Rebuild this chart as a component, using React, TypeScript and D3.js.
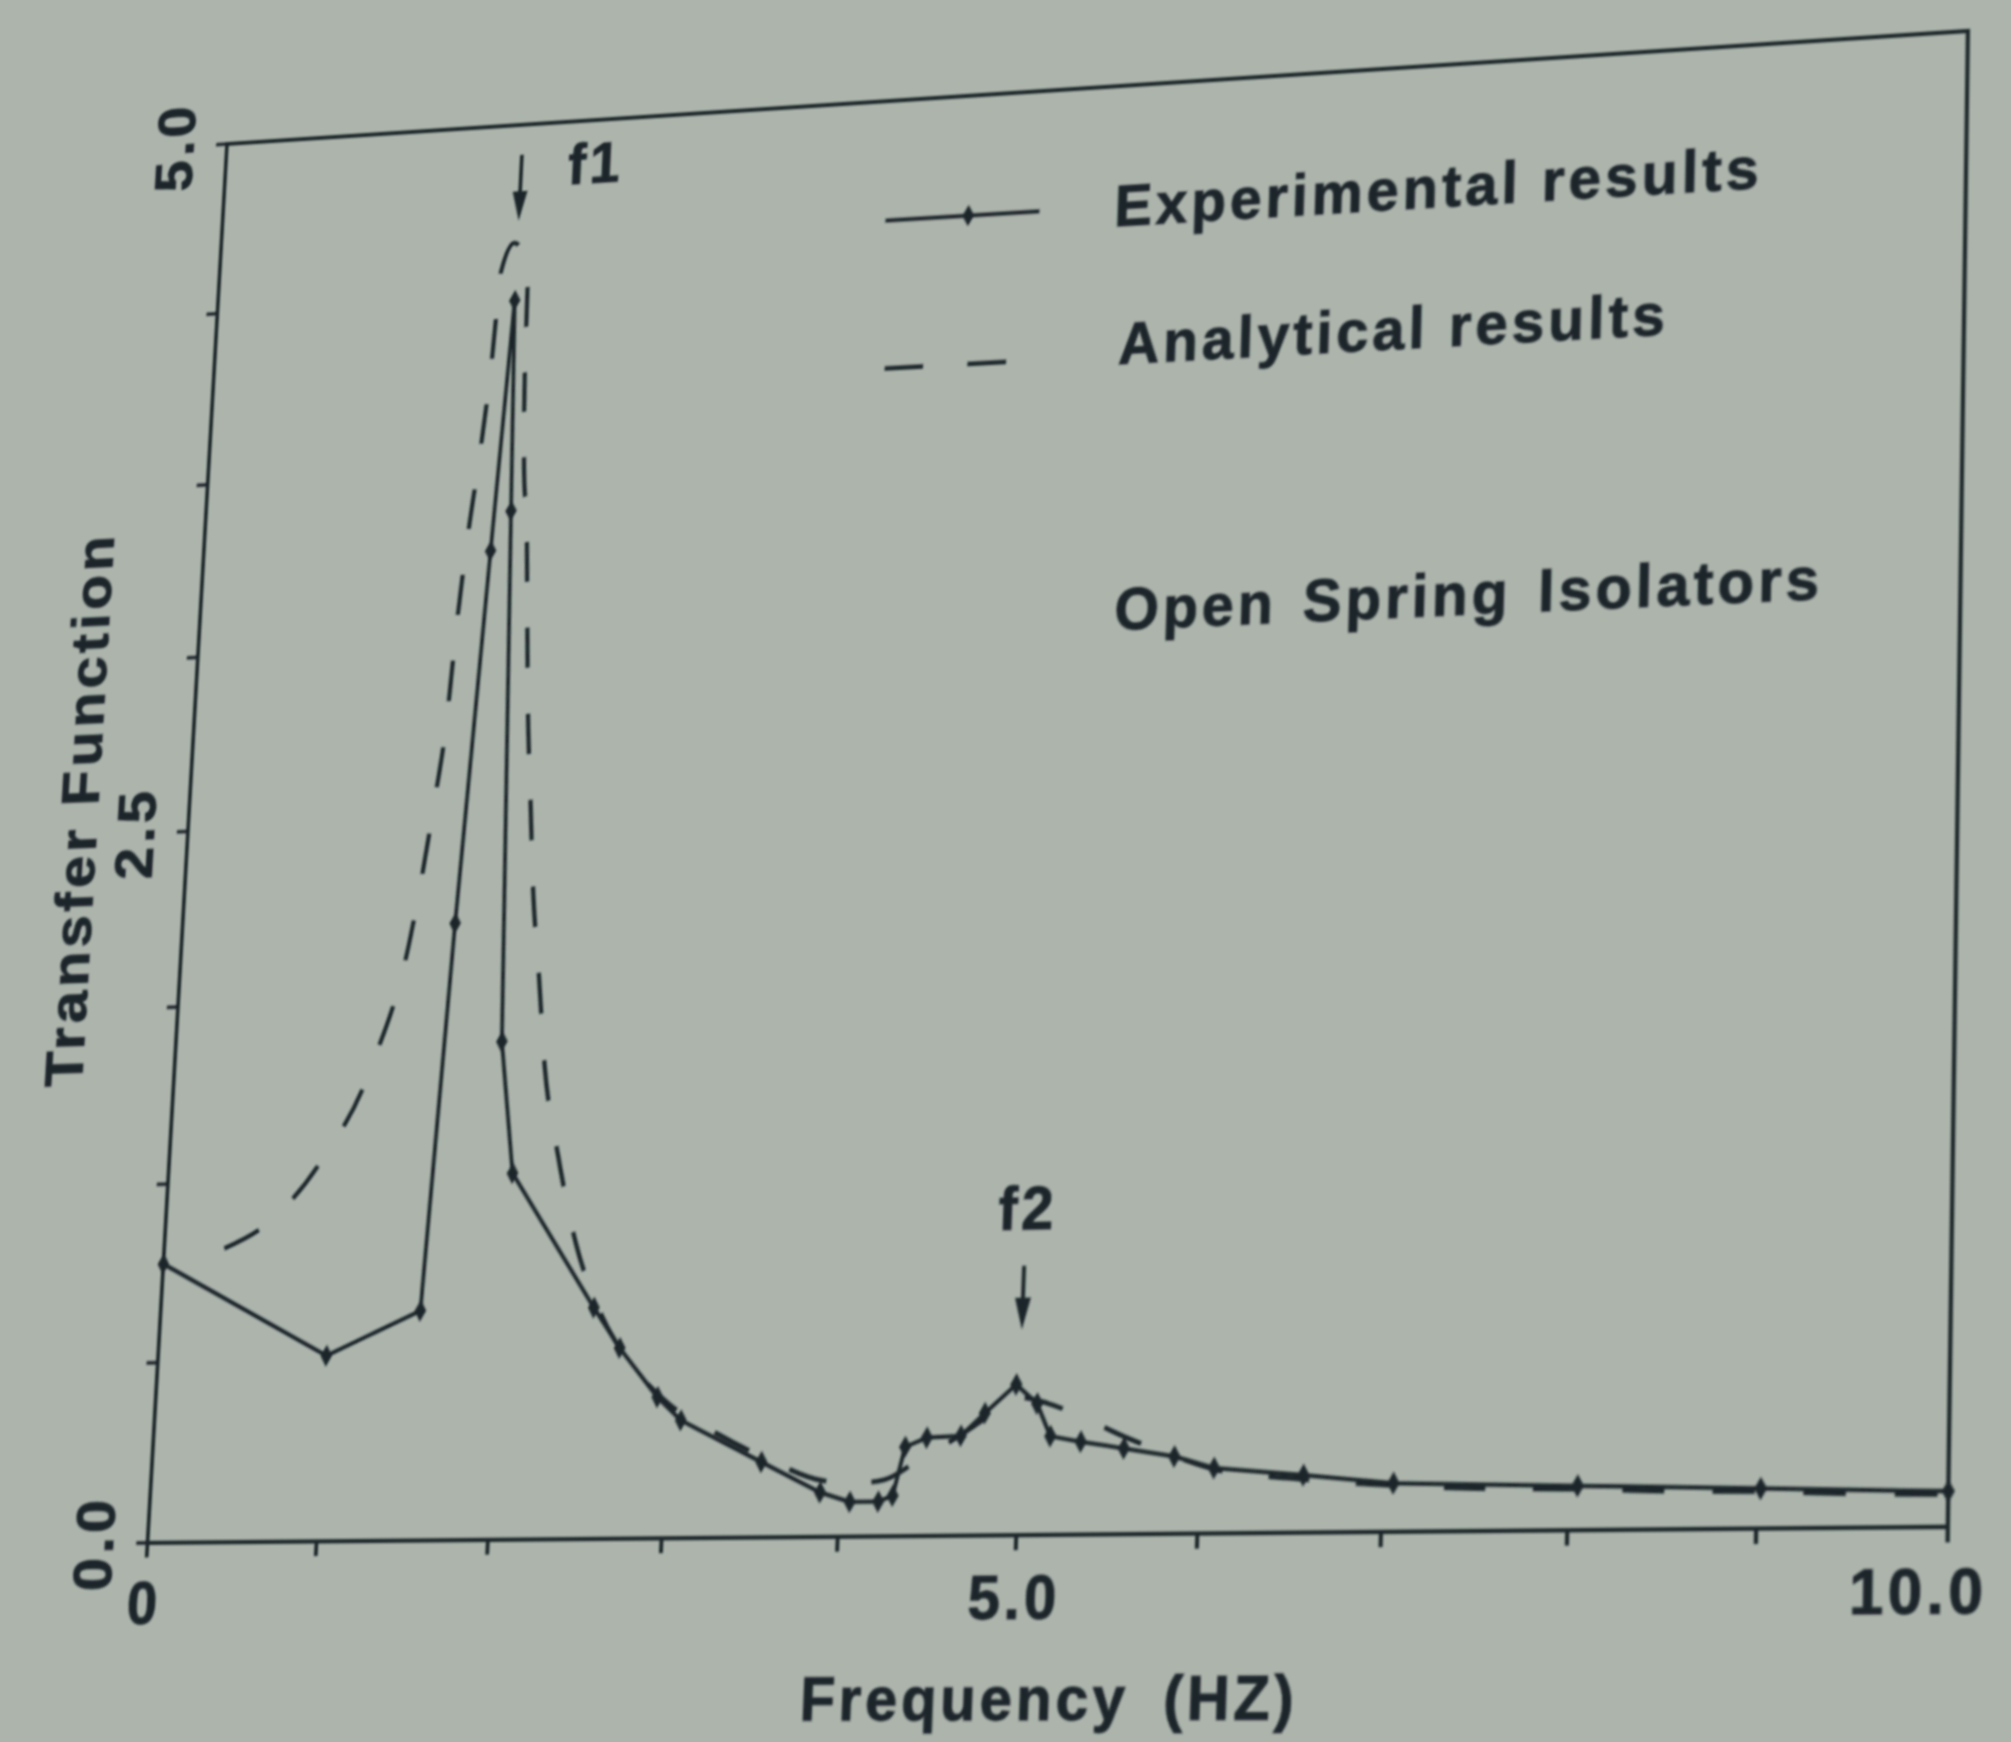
import * as d3 from 'd3';

// experimental curve (frequency in Hz, transfer function)
const expFreq = [0, 1.0, 1.54, 1.63, 1.73, 1.80, 1.84, 1.94, 2.04, 2.55, 2.71, 2.94, 3.08, 3.55, 3.89, 4.06, 4.22, 4.30, 4.36, 4.48, 4.67, 4.80, 4.97, 5.09, 5.17, 5.34, 5.58, 5.86, 6.08, 6.57, 7.06, 8.05, 9.02, 10.0];
const expTF = [0.97, 0.64, 0.79, 2.14, 3.46, 4.36, 3.60, 1.72, 1.26, 0.79, 0.65, 0.48, 0.40, 0.255, 0.15, 0.117, 0.117, 0.136, 0.30, 0.33, 0.335, 0.41, 0.505, 0.44, 0.33, 0.31, 0.286, 0.257, 0.217, 0.19, 0.16, 0.145, 0.13, 0.115];

// analytical curve
const anaFreq = [0.36, 0.64, 0.9, 1.18, 1.37, 1.47, 1.52, 1.55, 1.59, 1.64, 1.68, 1.71, 1.78, 1.87, 1.88, 1.90, 1.94, 1.97, 2.00, 2.04, 2.08, 2.14, 2.20, 2.30, 2.43, 2.6, 2.8, 3.0, 3.3, 3.6, 3.9, 4.1, 4.25, 4.45, 4.65, 4.85, 5.0, 5.15, 5.35, 5.6, 5.85, 6.1, 6.5, 7.0, 7.5, 8.0, 8.5, 9.0, 9.5, 10.0];
const anaTF = [1.02, 1.12, 1.31, 1.65, 2.10, 2.57, 2.87, 3.20, 3.52, 3.83, 4.14, 4.47, 4.57, 4.46, 4.14, 3.81, 3.52, 3.19, 2.87, 2.56, 2.25, 1.94, 1.62, 1.32, 1.01, 0.76, 0.58, 0.46, 0.35, 0.26, 0.19, 0.18, 0.19, 0.26, 0.33, 0.41, 0.46, 0.44, 0.39, 0.32, 0.26, 0.21, 0.18, 0.155, 0.14, 0.135, 0.125, 0.12, 0.11, 0.105];

const xTickValues = d3.range(0, 11, 1);
const yTickValues = d3.range(0, 9).map(i => i * 0.625);
const xLabelValues = [0, 5, 10];
const xLabelTexts = ['0', '5.0', '10.0'];
const yLabelValues = [0, 2.5, 5];
const yLabelTexts = ['0.0', '2.5', '5.0'];
const legendTexts = ['Experimental results', 'Analytical results', 'Open Spring Isolators'];

const W = 2011, H = 1742;
const L = 150, T = 140, PW = 1800, PH = 1400;
const INK = '#1f252b';
const PAPER = '#acb4ac';
const FONT = "'Liberation Sans', Arial, Helvetica, sans-serif";

// the page was photographed at an angle: frame corners on screen (TL, TR, BR, BL)
const QUAD = [[227, 144], [1968, 31], [1948, 1527], [147.5, 1543]];

function pageTransform() {
  const [[x0, y0], [x1, y1], [x2, y2], [x3, y3]] = QUAD;
  const dx1 = x1 - x2, dx2 = x3 - x2, dx3 = x0 - x1 + x2 - x3;
  const dy1 = y1 - y2, dy2 = y3 - y2, dy3 = y0 - y1 + y2 - y3;
  const den = dx1 * dy2 - dx2 * dy1;
  const g = (dx3 * dy2 - dx2 * dy3) / den;
  const h = (dx1 * dy3 - dx3 * dy1) / den;
  const a = x1 - x0 + g * x1, b = x3 - x0 + h * x3, c = x0;
  const d = y1 - y0 + g * y1, e = y3 - y0 + h * y3, f = y0;
  const m = [
    [a / PW, b / PH, c - (a * L) / PW - (b * T) / PH],
    [d / PW, e / PH, f - (d * L) / PW - (e * T) / PH],
    [g / PW, h / PH, 1 - (g * L) / PW - (h * T) / PH],
  ];
  return `matrix3d(${m[0][0]},${m[1][0]},0,${m[2][0]},${m[0][1]},${m[1][1]},0,${m[2][1]},0,0,1,0,${m[0][2]},${m[1][2]},0,${m[2][2]})`;
}

export default function App() {
  const x = d3.scaleLinear().domain([0, 10]).range([L, L + PW]);
  const y = d3.scaleLinear().domain([0, 5]).range([T + PH, T]);

  const expPts = expFreq.map((f, i) => [f, expTF[i]] as [number, number]);
  const anaPts = anaFreq.map((f, i) => [f, anaTF[i]] as [number, number]);
  const line = d3.line<[number, number]>().x(d => x(d[0])).y(d => y(d[1]));
  const smooth = d3.line<[number, number]>().x(d => x(d[0])).y(d => y(d[1])).curve(d3.curveMonotoneX);
  const diamond = d3.symbol().type(d3.symbolDiamond).size(130)();

  const text = {
    fontFamily: FONT, fontWeight: 700, fontSize: 58, letterSpacing: 4,
    fill: INK, stroke: INK, strokeWidth: 0.9,
  } as const;

  const arrow = (f: number, from: number, to: number) => {
    const ax = x(f), ya = y(from), yb = y(to);
    return (
      <g>
        <line x1={ax} x2={ax} y1={ya} y2={yb - 24} stroke={INK} strokeWidth={4} />
        <path d={`M${ax - 8},${yb - 30} L${ax + 8},${yb - 30} L${ax},${yb} Z`} fill={INK} />
      </g>
    );
  };

  return (
    <div style={{ position: 'absolute', left: 0, top: 0, width: W, height: H, background: PAPER, overflow: 'hidden' }}>
      <svg
        width={W}
        height={H}
        style={{ position: 'absolute', left: 0, top: 0, transformOrigin: '0 0', transform: pageTransform() }}
      >
        <defs>
          <filter id="soft">
            <feGaussianBlur stdDeviation="1" />
          </filter>
        </defs>
        <g filter="url(#soft)">
          {/* frame */}
          <rect x={L} y={T} width={PW} height={PH} fill="none" stroke={INK} strokeWidth={4} />

          {/* ticks */}
          {xTickValues.map(v => (
            <line key={'xt' + v} x1={x(v)} x2={x(v)} y1={T + PH} y2={T + PH + 14} stroke={INK} strokeWidth={4} />
          ))}
          {yTickValues.map(v => (
            <line key={'yt' + v} x1={L - 12} x2={L} y1={y(v)} y2={y(v)} stroke={INK} strokeWidth={3.5} />
          ))}

          {/* tick labels */}
          {xLabelValues.map((v, i) => (
            <text key={'xl' + v} x={x(v) + (v === 10 ? -27 : 0)} y={T + PH + 58} textAnchor="middle" dominantBaseline="central" {...text}>
              {xLabelTexts[i]}
            </text>
          ))}
          {yLabelValues.map((v, i) => (
            <text key={'yl' + v} transform={`translate(${L - 57},${y(v)}) rotate(-90)`} textAnchor="middle" dominantBaseline="central" {...text}>
              {yLabelTexts[i]}
            </text>
          ))}

          {/* axis titles */}
          <text transform={`translate(${L - 120},${y(2.6)}) rotate(-90)`} textAnchor="middle" dominantBaseline="central" {...text}>
            Transfer Function
          </text>
          <text x={x(5.2)} y={T + PH + 152} textAnchor="middle" dominantBaseline="central" {...text}>
            <tspan>Frequency</tspan>
            <tspan dx={34}>(HZ)</tspan>
          </text>

          {/* analytical results */}
          <path d={smooth(anaPts) ?? ''} fill="none" stroke={INK} strokeWidth={4.5} strokeDasharray="40 46" />

          {/* experimental results */}
          <path d={line(expPts) ?? ''} fill="none" stroke={INK} strokeWidth={4} strokeLinejoin="round" />
          {expPts.map((p, i) => (
            <path key={'m' + i} d={diamond ?? ''} transform={`translate(${x(p[0])},${y(p[1])})`} fill={INK} />
          ))}

          {/* resonance markers */}
          {arrow(1.8, 4.89, 4.65)}
          <text x={x(2.08)} y={y(4.77)} {...text}>f1</text>
          {arrow(4.99, 0.905, 0.69)}
          <text x={x(5.0)} y={y(1.03)} textAnchor="middle" {...text}>f2</text>

          {/* legend */}
          <line x1={x(3.97)} x2={x(4.86)} y1={y(4.57)} y2={y(4.57)} stroke={INK} strokeWidth={4} />
          <path d={diamond ?? ''} transform={`translate(${x(4.45)},${y(4.57)})`} fill={INK} />
          <text x={x(5.29)} y={y(4.5)} {...text}>{legendTexts[0]}</text>
          <line x1={x(4.0)} x2={x(4.71)} y1={y(4.04)} y2={y(4.04)} stroke={INK} strokeWidth={4.5} strokeDasharray="40 46" />
          <text x={x(5.34)} y={y(4.01)} {...text}>{legendTexts[1]}</text>
          <text x={x(5.37)} y={y(3.08)} wordSpacing={6} {...text}>{legendTexts[2]}</text>
        </g>
      </svg>
    </div>
  );
}
